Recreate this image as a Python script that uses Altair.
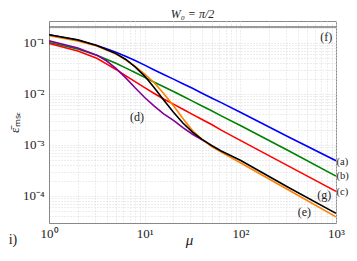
import altair as alt
import pandas as pd

# ---- data ----
mu = [1, 2, 3.16, 3.98, 5.01, 6.31, 7.94, 10, 12.6, 15.8, 20, 25.1, 31.6, 39.8,
      50.1, 63.1, 100, 316, 1000]

eps_a = [0.1445, 0.1122, 0.0891, 0.0767, 0.0653, 0.0550, 0.0452, 0.0367, 0.0295,
         0.0240, 0.0195, 0.0158, 0.0129, 0.01035, 0.00832, 0.00676, 0.00437,
         0.001445, 0.00049]
eps_b = [0.1023, 0.0759, 0.0575, 0.0479, 0.0398, 0.0324, 0.0263, 0.0211, 0.0170,
         0.0138, 0.0112, 0.00902, 0.00724, 0.00582, 0.00468, 0.00372, 0.0024,
         0.000776, 0.000245]
eps_c = [0.0977, 0.0692, 0.0501, 0.0389, 0.0302, 0.0229, 0.0174, 0.0133, 0.0102,
         0.00794, 0.00631, 0.00501, 0.00398, 0.00316, 0.00251, 0.00195, 0.00123,
         0.000389, 0.000123]
mu_d = [1, 2, 3.16, 3.98, 5.01, 6.31, 7.94, 10, 12.6, 15.8, 20, 25.1, 31.6, 39.8, 42.7]
eps_d = [0.1096, 0.0794, 0.0575, 0.0447, 0.0316, 0.0209, 0.0132, 0.00851, 0.00575,
         0.00407, 0.00302, 0.00219, 0.00162, 0.00126, 0.00117]
eps_e = [0.138, 0.1096, 0.0871, 0.0724, 0.0603, 0.0468, 0.0347, 0.0245, 0.0166,
         0.01023, 0.00589, 0.00331, 0.00191, 0.00129, 0.000933, 0.000724, 0.000447,
         0.000132, 0.0000389]
mu_f = [1, 1000]
eps_f = [0.205, 0.205]
eps_g = [0.1445, 0.1148, 0.0891, 0.0741, 0.0617, 0.0479, 0.0339, 0.0224, 0.0132,
         0.00759, 0.00437, 0.00269, 0.00178, 0.00129, 0.000977, 0.000759, 0.000501,
         0.000148, 0.0000457]

curve_names = ["a", "b", "c", "d", "e", "f", "g"]
curve_colors = ["#0000ff", "#008000", "#ff0000", "#800099", "#ff8000", "#7a7a7a", "#000000"]

label_text = ["(a)", "(b)", "(c)", "(d)", "(e)", "(f)", "(g)"]
label_mu = [1000, 1000, 1000, 8.3, 468, 789, 752]
label_eps = [0.00047, 0.00025, 0.00012, 0.00355, 0.000049, 0.13, 0.000105]
label_align = ["left", "left", "left", "center", "center", "center", "center"]

title_text = "W₀ = π/2"
xlabel_text = "μ"
ylabel_text = "ε̄ₘₛₑ"
panel_text = "i)"

x_major = [1, 10, 100, 1000]
x_major_labels = ["10⁰", "10¹", "10²", "10³"]
y_major = [0.0001, 0.001, 0.01, 0.1]
y_major_labels = ["10⁻⁴", "10⁻³", "10⁻²", "10⁻¹"]

x_domain = [1, 1000]
y_domain = [2.95e-5, 0.269]

# ---- tables ----
rows = []
for name, xs, ys in [("a", mu, eps_a), ("b", mu, eps_b), ("c", mu, eps_c),
                     ("d", mu_d, eps_d), ("e", mu, eps_e), ("f", mu_f, eps_f),
                     ("g", mu, eps_g)]:
    for i, (x, y) in enumerate(zip(xs, ys)):
        rows.append({"curve": name, "mu": x, "eps": y, "order": i})
df = pd.DataFrame(rows)

labels = pd.DataFrame({"text": label_text, "mu": label_mu, "eps": label_eps,
                       "align": label_align})

# minor tick positions for the grid
x_vals = []
for k in [1, 10, 100]:
    for m in range(1, 10):
        x_vals.append(m * k)
x_vals.append(1000)
y_vals = []
for k in [0.00001, 0.0001, 0.001, 0.01, 0.1]:
    for m in range(1, 10):
        v = m * k
        if y_domain[0] <= v <= y_domain[1]:
            y_vals.append(v)


def label_expr(vals, labs):
    parts = ""
    for v, l in zip(vals, labs):
        parts += f"abs(datum.value - {v})/{v} < 1e-6 ? '{l}' : "
    return parts + "''"


SERIF = "Liberation Serif"
TXT = "#222222"
W, H = 287, 202

xscale = alt.Scale(type="log", domain=x_domain, nice=False)
yscale = alt.Scale(type="log", domain=y_domain, nice=False)

xaxis = alt.Axis(values=x_vals, labelExpr=label_expr(x_major, x_major_labels),
                 grid=True, gridDash=[1, 2], gridColor="#dadada", ticks=False,
                 domainColor="#888888", labelFont=SERIF, labelFontSize=13,
                 labelColor=TXT, labelPadding=4, labelFlush=False,
                 labelOverlap=False, title=xlabel_text, titleFont=SERIF,
                 titleFontStyle="italic", titleFontWeight="normal", titleFontSize=15,
                 titleX=140, titleY=21, titleBaseline="alphabetic", titleColor=TXT)
yaxis = alt.Axis(values=y_vals, labelExpr=label_expr(y_major, y_major_labels),
                 grid=True, gridDash=[1, 2], gridColor="#dadada", ticks=False,
                 domainColor="#888888", labelFont=SERIF, labelFontSize=13,
                 labelColor=TXT, labelPadding=5, labelFlush=False,
                 labelOverlap=False, title=ylabel_text, titleFont=SERIF,
                 titleFontWeight="normal", titleFontSize=13, titleAngle=-90,
                 titleX=-35, titleY=101, titleAlign="center", titleBaseline="middle",
                 titleColor=TXT)

lines = alt.Chart(df).mark_line(strokeWidth=1.6, clip=True).encode(
    x=alt.X("mu:Q", scale=xscale, axis=xaxis),
    y=alt.Y("eps:Q", scale=yscale, axis=yaxis),
    color=alt.Color("curve:N", scale=alt.Scale(domain=curve_names, range=curve_colors),
                    legend=None),
    order="order:Q",
)

text_left = alt.Chart(labels[labels["align"] == "left"]).mark_text(
    align="left", baseline="middle", dx=0.5, font=SERIF, fontSize=10.5, color=TXT
).encode(x=alt.X("mu:Q", scale=xscale), y=alt.Y("eps:Q", scale=yscale), text="text:N")

text_center = alt.Chart(labels[labels["align"] == "center"]).mark_text(
    align="center", baseline="middle", font=SERIF, fontSize=12, color=TXT
).encode(x=alt.X("mu:Q", scale=xscale), y=alt.Y("eps:Q", scale=yscale), text="text:N")

panel = alt.Chart(pd.DataFrame({"t": [panel_text]})).mark_text(
    align="center", baseline="alphabetic", font=SERIF, fontSize=14, color=TXT
).encode(x=alt.value(-36), y=alt.value(H + 21), text="t:N")

title = alt.Chart(pd.DataFrame({"t": [title_text]})).mark_text(
    align="center", baseline="alphabetic", font=SERIF, fontSize=12,
    fontStyle="italic", color=TXT
).encode(x=alt.value(W / 2), y=alt.value(-3), text="t:N")

chart = alt.layer(lines, text_left, text_center, panel, title).properties(
    width=W, height=H,
    autosize=alt.AutoSizeParams(type="none"),
    padding={"left": 41, "top": 13, "right": 13, "bottom": 25},
).configure_view(stroke="#888888", strokeWidth=1)

chart.save("out.html", embed_options={"renderer": "svg", "actions": False})
